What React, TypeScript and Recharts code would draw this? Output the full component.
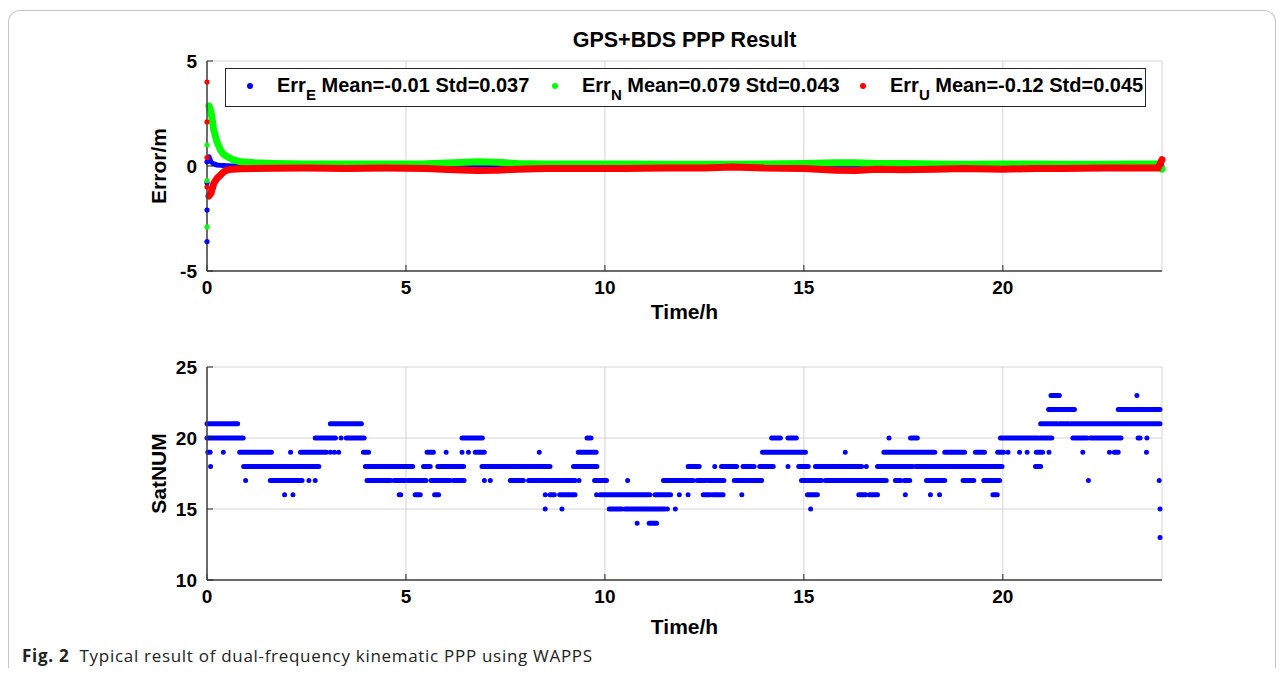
import React from "react";
import {
  CartesianGrid,
  ComposedChart,
  Label,
  Legend,
  Line,
  Scatter,
  XAxis,
  YAxis,
} from "recharts";

const FONT = '"Liberation Sans", Arial, sans-serif';

const hourTicks = [0, 5, 10, 15, 20];
const errTicks = [-5, 0, 5];
const satTicks = [10, 15, 20, 25];

// ENU errors (m)
const errTime = [
  0.05, 0.1, 0.17, 0.25, 0.34, 0.42, 0.51, 0.65, 0.84, 1.2, 1.67, 2.5, 3.5,
  4.5, 5.5, 6.2, 6.8, 7.3, 7.8, 8.5, 9.5, 10.5, 11.5, 12.5, 13.2, 14.0, 15.0,
  15.8, 16.3, 16.8, 17.5, 18.3, 19.0, 20.0, 20.8, 21.5, 22.5, 23.3, 23.9, 24.0,
];
const errE = [
  0.44, 0.2, 0.1, 0.05, 0.03, 0.02, 0.01, 0, 0, 0, 0, 0.03, 0, 0, 0, 0, 0.02,
  0.02, 0, -0.01, -0.02, -0.02, -0.02, -0.05, -0.04, -0.02, -0.02, -0.05,
  -0.05, -0.05, -0.03, -0.02, -0.02, -0.02, -0.02, -0.02, -0.02, -0.02, -0.02,
  0,
];
const errN = [
  2.86, 2.6, 1.71, 1.15, 0.76, 0.55, 0.44, 0.3, 0.2, 0.15, 0.12, 0.1, 0.1, 0.1,
  0.11, 0.15, 0.2, 0.18, 0.12, 0.1, 0.1, 0.1, 0.08, 0.08, 0.08, 0.1, 0.12,
  0.15, 0.16, 0.12, 0.12, 0.1, 0.08, 0.1, 0.1, 0.08, 0.08, 0.1, 0.1, -0.15,
];
const errU = [
  -1.43, -1.3, -0.83, -0.6, -0.43, -0.28, -0.19, -0.15, -0.13, -0.12, -0.11,
  -0.1, -0.12, -0.1, -0.12, -0.18, -0.22, -0.2, -0.15, -0.12, -0.12, -0.12,
  -0.1, -0.1, -0.05, -0.1, -0.12, -0.2, -0.22, -0.15, -0.18, -0.15, -0.12,
  -0.15, -0.12, -0.12, -0.1, -0.1, -0.1, 0.3,
];

// first epochs, before the filter settles (all at t = 0)
const firstE = [0.2, -0.8, -2.1, -3.6];
const firstN = [1.0, -0.7, -2.9];
const firstU = [4.0, 2.1, 0.4, -1.0];

const errNames = ["E", "N", "U"];
const errMeans = ["-0.01", "0.079", "-0.12"];
const errStds = ["0.037", "0.043", "0.045"];
const errColors = ["#0000ff", "#00ff00", "#ff0000"];

// satellite count: [start h, end h] runs per level
const sat13 = [[23.95, 23.95]];
const sat14 = [[10.81, 10.81], [11.11, 11.3]];
const sat15 = [
  [8.5, 8.5], [8.92, 8.92], [10.11, 10.42], [10.5, 11.51], [11.57, 11.57],
  [11.77, 11.77], [15.17, 15.17], [23.95, 23.95],
];
const sat16 = [
  [1.95, 1.95], [2.16, 2.16], [4.83, 4.87], [5.23, 5.36], [5.72, 5.82],
  [8.5, 8.5], [8.62, 8.73], [8.86, 9.25], [9.79, 9.79], [9.88, 11.13],
  [11.26, 11.65], [11.87, 11.87], [12.09, 12.09], [12.47, 12.64],
  [12.71, 12.97], [13.44, 13.44], [15.09, 15.34], [16.38, 16.55],
  [16.65, 16.85], [17.55, 17.55], [18.18, 18.18], [18.41, 18.41],
  [19.75, 19.86],
];
const sat17 = [
  [0.97, 0.97], [1.59, 2.39], [2.56, 2.56], [2.72, 2.72], [4.02, 4.62],
  [4.7, 4.98], [5.05, 5.28], [5.32, 5.5], [5.63, 6.11], [6.19, 6.46],
  [6.97, 6.97], [7.12, 7.12], [7.62, 7.95], [8.08, 8.92], [8.96, 9.25],
  [9.35, 9.35], [9.74, 10.04], [10.57, 10.57], [11.47, 12.22], [12.32, 12.54],
  [12.6, 12.99], [13.25, 13.94], [14.94, 15.44], [15.54, 17.03], [17.07, 17.07],
  [17.3, 17.43], [17.52, 17.66], [18.08, 18.54], [19.0, 19.27], [19.52, 19.92],
  [22.15, 22.15], [23.93, 23.93],
];
const sat18 = [
  [0.09, 0.09], [0.92, 2.81], [3.98, 5.17], [5.44, 5.61], [5.8, 6.45],
  [6.91, 8.62], [9.21, 9.8], [12.09, 12.37], [12.76, 12.76], [12.93, 13.31],
  [13.47, 13.75], [13.89, 14.23], [14.6, 14.6], [14.87, 15.11], [15.29, 16.45],
  [16.57, 16.57], [16.85, 17.74], [17.81, 19.98], [20.82, 20.95],
];
const sat19 = [
  [0.02, 0.08], [0.41, 0.41], [0.82, 1.39], [1.42, 1.62], [2.1, 2.1],
  [2.35, 3.0], [3.1, 3.1], [3.2, 3.2], [3.31, 3.31], [3.93, 4.06],
  [5.53, 5.69], [6.01, 6.01], [6.41, 6.41], [6.57, 6.57], [6.74, 6.97],
  [8.35, 8.35], [9.33, 9.78], [13.96, 15.04], [16.04, 16.04], [17.01, 18.29],
  [18.54, 19.04], [19.31, 19.54], [19.87, 20.02], [20.13, 20.13],
  [20.42, 20.42], [20.61, 20.61], [20.84, 21.0], [21.16, 21.16],
  [22.01, 22.01], [22.68, 22.68], [22.8, 22.9], [23.61, 23.61],
];
const sat20 = [
  [0.0, 0.91], [2.72, 3.23], [3.37, 3.37], [3.5, 3.95], [6.41, 6.92],
  [9.55, 9.65], [14.19, 14.41], [14.6, 14.81], [17.14, 17.14], [17.68, 17.85],
  [19.94, 20.88], [20.92, 21.23], [21.76, 22.12], [22.2, 22.97],
  [23.4, 23.45], [23.62, 23.62],
];
const sat21 = [
  [0.0, 0.77], [3.1, 3.88], [20.95, 21.37], [21.42, 21.67], [21.72, 23.95],
];
const sat22 = [[21.15, 21.8], [22.9, 23.95]];
const sat23 = [[21.21, 21.42], [23.37, 23.37]];

const satLevels = [13, 14, 15, 16, 17, 18, 19, 20, 21, 22, 23];
const satRuns = [sat13, sat14, sat15, sat16, sat17, sat18, sat19, sat20, sat21, sat22, sat23];

const errRows = errTime.map((t, i) => ({ t, e: errE[i], n: errN[i], u: errU[i] }));
const firstRows = [firstE, firstN, firstU].map((vals) => vals.map((v) => ({ t: 0, v })));

const satSeries = satLevels.map((level, i) =>
  satRuns[i].flatMap(([a, b]) => [
    { t: a, n: level },
    { t: b, n: level },
    { t: b, n: null },
  ])
);

const tickStyle = { fill: "#000", fontSize: 19, fontWeight: 700, fontFamily: FONT };
const titleStyle = { ...tickStyle, fontSize: 21 };
const axisLine = { stroke: "#404040", strokeWidth: 1.5 };
const tickLine = { stroke: "#262626" };

const xTitle = (text: string, dy: number) => (props: any) => {
  const vb = props.viewBox;
  return (
    <text
      x={vb.x + vb.width / 2}
      y={vb.y + dy}
      textAnchor="middle"
      dominantBaseline="central"
      style={titleStyle}
    >
      {text}
    </text>
  );
};

const yTitle = (text: string, dx: number) => (props: any) => {
  const vb = props.viewBox;
  const cx = vb.x + dx;
  const cy = vb.y + vb.height / 2;
  return (
    <text
      x={cx}
      y={cy}
      transform={`rotate(-90 ${cx} ${cy})`}
      textAnchor="middle"
      dominantBaseline="central"
      style={titleStyle}
    >
      {text}
    </text>
  );
};

const dot = (color: string) => (p: any) => <circle cx={p.cx} cy={p.cy} r={2.6} fill={color} />;

const renderLegend = () => (
  <div
    style={{
      position: "relative",
      width: "100%",
      height: "100%",
      boxSizing: "border-box",
      border: "1px solid #262626",
      background: "#fff",
      fontFamily: FONT,
      fontWeight: 700,
      fontSize: 20,
      color: "#000",
    }}
  >
    {errNames.map((name, i) => (
      <div
        key={name}
        style={{
          position: "absolute",
          left: [21, 326, 634][i],
          top: -2,
          height: "100%",
          display: "flex",
          alignItems: "center",
          whiteSpace: "nowrap",
        }}
      >
        <span
          style={{
            display: "inline-block",
            width: 6,
            height: 6,
            borderRadius: 3,
            background: errColors[i],
            marginRight: 24,
          }}
        />
        <span>
          Err
          <span style={{ fontSize: 15, position: "relative", top: 8 }}>{name}</span>
          {` Mean=${errMeans[i]} Std=${errStds[i]}`}
        </span>
      </div>
    ))}
  </div>
);

export default function App() {
  return (
    <div style={{ position: "relative", width: 1268, height: 660 }}>
      <div
        style={{
          position: "absolute",
          left: 0,
          top: 2,
          width: 1266,
          height: 662,
          border: "1px solid #c4c4c4",
          borderBottom: "none",
          borderRadius: "12px 12px 0 0",
        }}
      />

      <div
        style={{
          position: "absolute",
          left: 199,
          width: 955,
          top: 20,
          textAlign: "center",
          fontFamily: FONT,
          fontWeight: 700,
          fontSize: 21.5,
          lineHeight: "24px",
        }}
      >
        GPS+BDS PPP Result
      </div>

      <div style={{ position: "absolute", left: 0, top: 0 }}>
        <ComposedChart
          width={1268}
          height={330}
          data={errRows}
          margin={{ top: 53, right: 114, bottom: 7, left: 139 }}
        >
          <CartesianGrid stroke="#d4d4d4" />
          <XAxis
            dataKey="t"
            type="number"
            domain={[0, 24]}
            ticks={hourTicks}
            height={60}
            tick={tickStyle}
            tickSize={-6}
            tickMargin={16}
            axisLine={axisLine}
            tickLine={tickLine}
          >
            <Label content={xTitle("Time/h", 40)} />
          </XAxis>
          <XAxis
            xAxisId="top"
            orientation="top"
            type="number"
            domain={[0, 24]}
            ticks={hourTicks}
            height={0}
            tick={false}
            tickSize={-6}
            axisLine={axisLine}
            tickLine={tickLine}
          />
          <YAxis
            type="number"
            domain={[-5, 5]}
            ticks={errTicks}
            width={60}
            tick={tickStyle}
            tickSize={-6}
            tickMargin={16}
            axisLine={axisLine}
            tickLine={tickLine}
          >
            <Label content={yTitle("Error/m", 11)} />
          </YAxis>
          <YAxis
            yAxisId="right"
            orientation="right"
            type="number"
            domain={[-5, 5]}
            ticks={errTicks}
            width={0}
            tick={false}
            tickSize={-6}
            axisLine={axisLine}
            tickLine={tickLine}
          />
          <Legend
            layout="horizontal"
            verticalAlign="middle"
            align="center"
            content={renderLegend}
            wrapperStyle={{ left: 217, top: 60, width: 921, height: 39 }}
          />
          <Line
            dataKey="e"
            name="E"
            stroke={errColors[0]}
            strokeWidth={5}
            strokeLinecap="round"
            dot={false}
            activeDot={false}
            isAnimationActive={false}
          />
          <Line
            dataKey="n"
            name="N"
            stroke={errColors[1]}
            strokeWidth={7}
            strokeLinecap="round"
            dot={false}
            activeDot={false}
            isAnimationActive={false}
          />
          <Line
            dataKey="u"
            name="U"
            stroke={errColors[2]}
            strokeWidth={7}
            strokeLinecap="round"
            dot={false}
            activeDot={false}
            isAnimationActive={false}
          />
          {firstRows.map((rows, i) => (
            <Scatter
              key={i}
              data={rows}
              dataKey="v"
              legendType="none"
              shape={dot(errColors[i])}
              isAnimationActive={false}
            />
          ))}
        </ComposedChart>
      </div>

      <div style={{ position: "absolute", left: 0, top: 300 }}>
        <ComposedChart
          width={1268}
          height={360}
          margin={{ top: 59, right: 114, bottom: 28, left: 139 }}
        >
          <CartesianGrid stroke="#d4d4d4" />
          <XAxis
            dataKey="t"
            type="number"
            domain={[0, 24]}
            ticks={hourTicks}
            height={60}
            tick={tickStyle}
            tickSize={-6}
            tickMargin={16}
            axisLine={axisLine}
            tickLine={tickLine}
            allowDuplicatedCategory={false}
          >
            <Label content={xTitle("Time/h", 46)} />
          </XAxis>
          <XAxis
            xAxisId="top"
            orientation="top"
            type="number"
            domain={[0, 24]}
            ticks={hourTicks}
            height={0}
            tick={false}
            tickSize={-6}
            axisLine={axisLine}
            tickLine={tickLine}
          />
          <YAxis
            type="number"
            domain={[10, 25]}
            ticks={satTicks}
            width={60}
            tick={tickStyle}
            tickSize={-6}
            tickMargin={16}
            axisLine={axisLine}
            tickLine={tickLine}
          >
            <Label content={yTitle("SatNUM", 11)} />
          </YAxis>
          <YAxis
            yAxisId="right"
            orientation="right"
            type="number"
            domain={[10, 25]}
            ticks={satTicks}
            width={0}
            tick={false}
            tickSize={-6}
            axisLine={axisLine}
            tickLine={tickLine}
          />
          {satSeries.map((rows, i) => (
            <Line
              key={satLevels[i]}
              data={rows}
              dataKey="n"
              stroke="#0000ff"
              strokeWidth={5}
              strokeLinecap="round"
              dot={false}
              activeDot={false}
              connectNulls={false}
              isAnimationActive={false}
            />
          ))}
        </ComposedChart>
      </div>

      <div
        style={{
          position: "absolute",
          left: 14,
          top: 636,
          fontFamily: '"Open Sans", sans-serif',
          fontSize: 17,
          letterSpacing: 0.7,
          lineHeight: "24px",
          color: "#222",
          whiteSpace: "pre",
        }}
      >
        <b>Fig. 2</b>
        {"  Typical result of dual-frequency kinematic PPP using WAPPS"}
      </div>
    </div>
  );
}
